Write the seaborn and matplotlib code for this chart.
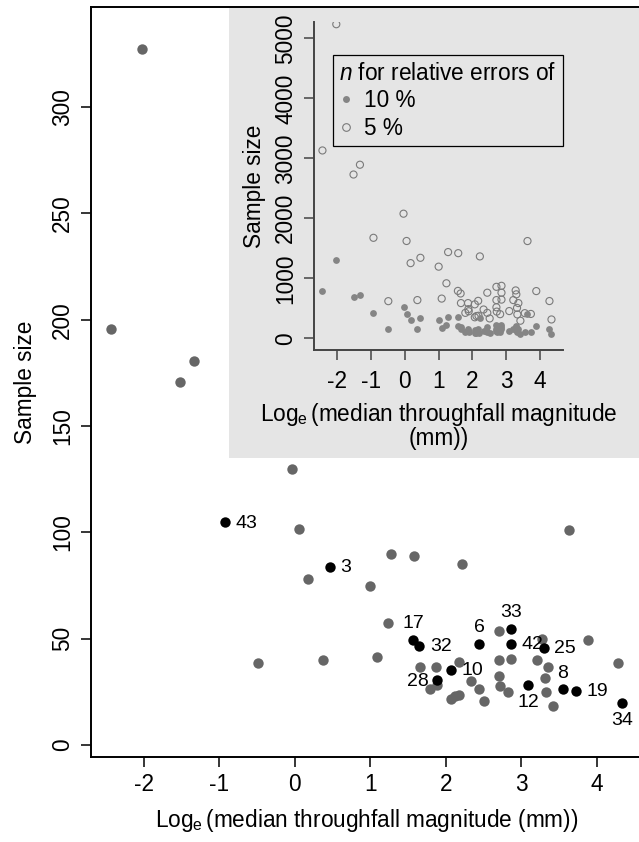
import matplotlib
matplotlib.use("Agg")
import matplotlib.pyplot as plt
import seaborn as sns
import pandas as pd
from matplotlib.lines import Line2D
from matplotlib.patches import Rectangle

# ---------------- data ----------------
# main panel: sites without label (log median throughfall, sample size)
other_x = [-2.03, -2.44, -1.33, -1.52, -0.04, 0.05, 0.17, -0.49, 0.37, 3.63,
           1.28, 1.58, 2.22, 1.00, 1.23, 1.09, 2.71, 3.28, 3.89, 4.28,
           1.66, 1.87, 2.17, 1.79, 1.89, 2.33, 2.44, 2.51, 2.07, 2.12,
           2.18, 2.71, 2.86, 2.71, 2.72, 2.82, 3.21, 3.36, 3.32, 3.33, 3.42]
other_n = [327.2, 195.7, 180.8, 170.6, 129.8, 101.4, 78.3, 38.7, 39.8, 101.3,
           89.8, 88.7, 85.3, 74.6, 57.3, 41.4, 53.6, 49.9, 49.2, 38.8,
           36.7, 36.7, 39.0, 26.5, 28.2, 30.0, 26.5, 20.7, 21.9, 23.2,
           23.5, 39.8, 40.3, 32.3, 27.8, 25.1, 39.8, 36.7, 31.7, 24.9, 18.3]
# labelled sites
site_ids = ["43", "3", "17", "32", "6", "33", "42", "25", "10", "28", "12", "8", "19", "34"]
site_x = [-0.93, 0.46, 1.57, 1.65, 2.44, 2.86, 2.86, 3.30, 2.07, 1.88, 3.09, 3.55, 3.73, 4.34]
site_n = [104.7, 83.9, 49.4, 46.7, 47.5, 54.7, 47.5, 45.8, 35.4, 30.4, 28.4, 26.2, 25.4, 19.6]

# inset: n for relative errors of 10 % and 5 % (same sites, same order: others then labelled)
inset_x = other_x + site_x
n_10 = [1309, 783, 723, 682, 519, 406, 313, 155, 159, 405,
        359, 355, 341, 298, 229, 166, 214, 200, 197, 155,
        147, 147, 156, 106, 113, 120, 106, 83, 88, 93,
        94, 159, 161, 129, 111, 100, 159, 147, 127, 100, 73,
        419, 336, 198, 187, 190, 219, 190, 183, 142, 122, 114, 105, 102, 78]
n_5 = [5235, 3131, 2893, 2730, 2077, 1622, 1253, 619, 637, 1621,
       1437, 1419, 1365, 1194, 917, 662, 858, 798, 787, 621,
       587, 587, 624, 424, 451, 480, 424, 331, 350, 371,
       376, 637, 645, 517, 445, 402, 637, 587, 507, 398, 293,
       1675, 1342, 790, 747, 760, 875, 760, 733, 566, 486, 454, 419, 406, 314]

# label placement side for each labelled site
label_side = {"43": "right", "3": "right", "17": "above", "32": "right", "6": "above",
              "33": "above", "42": "right", "25": "right", "10": "right", "28": "left",
              "12": "below", "8": "above", "19": "right", "34": "below"}

# ---------------- style ----------------
sns.set_style("ticks")
plt.rcParams["font.family"] = ["Liberation Sans", "DejaVu Sans"]
plt.rcParams["mathtext.fontset"] = "custom"
plt.rcParams["mathtext.rm"] = "Liberation Sans"
plt.rcParams["mathtext.it"] = "Liberation Sans:italic"
plt.rcParams["axes.unicode_minus"] = False
for k in ("text.color", "axes.labelcolor", "xtick.labelcolor", "ytick.labelcolor"):
    plt.rcParams[k] = "black"
FS = 16.3
W, H = 639, 842

def fx(px):
    return px / W

def fy(py):
    return (H - py) / H

fig = plt.figure(figsize=(W / 100, H / 100), dpi=100)

# main axes (pixel box: left 91, right 642, top 7, bottom 757)
ax = fig.add_axes([fx(91), fy(757), (642 - 91) / W, (757 - 7) / H])
ax.set_facecolor("none")

df_other = pd.DataFrame({"x": other_x, "n": other_n})
df_site = pd.DataFrame({"x": site_x, "n": site_n, "id": site_ids})

sns.scatterplot(data=df_other, x="x", y="n", ax=ax, color="#666666", s=56,
                linewidth=0, zorder=3)
sns.scatterplot(data=df_site, x="x", y="n", ax=ax, color="black", s=56,
                linewidth=0, zorder=4)

offs = {"right": ((7.5, -0.5), "left", "center"),
        "left": ((-5.5, -0.5), "right", "center"),
        "above": ((0, 5.5), "center", "bottom"),
        "below": ((0, -6.5), "center", "top")}
for sid, xv, nv in zip(site_ids, site_x, site_n):
    (dx, dy), ha, va = offs[label_side[sid]]
    ax.annotate(sid, (xv, nv), xytext=(dx, dy), textcoords="offset points",
                ha=ha, va=va, fontsize=14, color="black", zorder=5)

ax.set_xlim(-2.70, 4.60)
ax.set_ylim(-5.6, 347.1)
ax.set_xticks([-2, -1, 0, 1, 2, 3, 4])
ax.set_yticks([0, 50, 100, 150, 200, 250, 300])
for sp in ax.spines.values():
    sp.set_linewidth(1.4)
    sp.set_color("black")
ax.tick_params(axis="both", length=7.2, width=1.1, labelsize=FS, color="black",
               labelcolor="black")
ax.tick_params(axis="x", pad=4.5)
ax.tick_params(axis="y", pad=5, labelrotation=90)
for lab in ax.get_yticklabels():
    lab.set_va("center")
ax.set_xlabel(r"Log$_\mathregular{e}\,$(median throughfall magnitude (mm))", fontsize=FS,
              labelpad=8, color="black")
ax.set_ylabel("Sample size", fontsize=FS, labelpad=10, color="black")

# grey background of the inset (pixel box: 229..642, 7..458)
bg = Rectangle(((229 - 91) / 551, (757 - 458) / 750), (642 - 229) / 551, (458 - 7) / 750,
               transform=ax.transAxes, facecolor="#e5e5e5", edgecolor="none", zorder=0.5)
ax.add_patch(bg)

# inset axes (pixel box: left 314, right 563, top 22, bottom 350)
ia = fig.add_axes([fx(314), fy(350), (563.3 - 314) / W, (350 - 21.7) / H])
ia.set_facecolor("none")
df_in = pd.DataFrame({"x": inset_x, "n10": n_10, "n5": n_5})
sns.scatterplot(data=df_in, x="x", y="n5", ax=ia, s=26, facecolor="none",
                edgecolor="#7a7a7a", linewidth=0.8, zorder=3)
sns.scatterplot(data=df_in, x="x", y="n10", ax=ia, s=24, color="#858585",
                linewidth=0, zorder=4)
ia.set_xlim(-2.69, 4.69)
ia.set_ylim(-195, 5277)
ia.set_xticks([-2, -1, 0, 1, 2, 3, 4])
ia.set_yticks([0, 1000, 2000, 3000, 4000, 5000])
ia.spines["top"].set_visible(False)
ia.spines["right"].set_visible(False)
for k in ("left", "bottom"):
    ia.spines[k].set_linewidth(1.4)
    ia.spines[k].set_color("#444444")
ia.tick_params(axis="both", length=7.2, width=1.1, labelsize=FS, color="#444444",
               labelcolor="black")
ia.tick_params(axis="x", pad=7)
ia.tick_params(axis="y", pad=5, labelrotation=90)
for lab in ia.get_yticklabels():
    lab.set_va("center")
ia.set_xlabel("Log$_\\mathregular{e}\\,$(median throughfall magnitude\n(mm))", fontsize=FS,
              labelpad=6, linespacing=0.95, color="black")
ia.set_ylabel("Sample size", fontsize=FS, labelpad=6, color="black")

handles = [Line2D([], [], ls="none", marker="o", ms=5, mfc="#858585", mec="none"),
           Line2D([], [], ls="none", marker="o", ms=5.5, mfc="none", mec="#7a7a7a", mew=0.8)]
leg = ia.legend(handles, ["10 %", "5 %"], title=r"$\mathit{n}$ for relative errors of",
                loc="upper left", bbox_to_anchor=(0.075, 0.899), borderaxespad=0,
                fontsize=FS, title_fontsize=FS, frameon=True, fancybox=False,
                edgecolor="black", facecolor="none", framealpha=1,
                handlelength=0.6, handletextpad=0.5, labelspacing=0.2,
                borderpad=0.3, alignment="left")
leg.get_frame().set_linewidth(0.9)
for t in leg.get_texts():
    t.set_color("black")
leg.get_title().set_color("black")

fig.savefig("out.png", dpi=100)
